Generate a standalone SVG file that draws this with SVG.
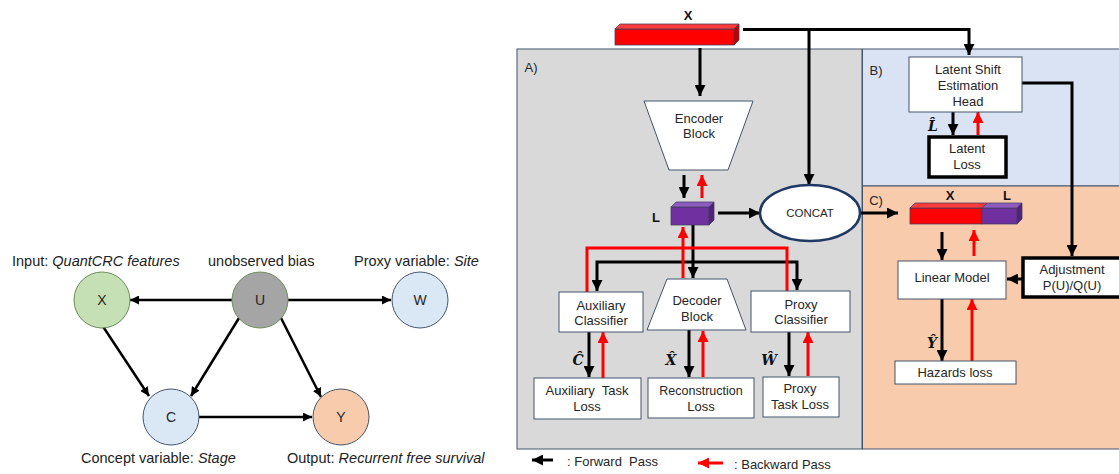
<svg xmlns="http://www.w3.org/2000/svg" width="1119" height="474" viewBox="0 0 1119 474">
<defs>
<style>
.t{font-family:"Liberation Sans",Arial,sans-serif;fill:#262626;text-anchor:middle}
.dl{font-family:"Liberation Sans",Arial,sans-serif;font-size:14.5px;fill:#222}
.lab{font-size:14px}
.bx{font-size:13px}
.bold{font-weight:bold;fill:#111}
.hat{font-family:"DejaVu Serif","Liberation Serif",serif;font-weight:bold;font-style:italic;font-size:14px;fill:#111;text-anchor:middle}
.box{fill:#fff;stroke:#44546a;stroke-width:1}
.tbox{fill:#fff;stroke:#000;stroke-width:3.5}
.k{fill:none;stroke:#000;stroke-width:3}
.r{fill:none;stroke:#f00;stroke-width:3}
.dag{fill:none;stroke:#000;stroke-width:2.5}
.bar{stroke:#3f3f5f;stroke-width:0.75}
</style>
<marker id="ak" markerUnits="userSpaceOnUse" markerWidth="11" markerHeight="11" viewBox="0 0 10 10" refX="10" refY="5" orient="auto"><path d="M0,0 L10,5 L0,10 z" fill="#000"/></marker>
<marker id="ar" markerUnits="userSpaceOnUse" markerWidth="11" markerHeight="11" viewBox="0 0 10 10" refX="10" refY="5" orient="auto"><path d="M0,0 L10,5 L0,10 z" fill="#f00"/></marker>
<marker id="ad" markerUnits="userSpaceOnUse" markerWidth="9" markerHeight="9" viewBox="0 0 10 10" refX="10" refY="5" orient="auto"><path d="M0,0 L10,5 L0,10 z" fill="#000"/></marker>
</defs>
<rect width="1119" height="474" fill="#fff"/>

<!-- ===== Left causal DAG ===== -->
<g id="dag-edges">
<path class="dag" d="M232,300 H130" marker-end="url(#ad)"/>
<path class="dag" d="M288,300 H391" marker-end="url(#ad)"/>
<path class="dag" d="M102,325 L149,396" marker-end="url(#ad)"/>
<path class="dag" d="M239,318 L191,396" marker-end="url(#ad)"/>
<path class="dag" d="M281,318 L321,397" marker-end="url(#ad)"/>
<path class="dag" d="M199,417 H312" marker-end="url(#ad)"/>
</g>
<g id="node-X"><circle cx="102" cy="300" r="28" fill="#c5e0b4" stroke="#6b8a5a"/><text class="t lab" x="102" y="305">X</text></g>
<g id="node-U"><circle cx="260" cy="300" r="28" fill="#a5a5a5" stroke="#6b8a5a"/><text class="t lab" x="260" y="305">U</text></g>
<g id="node-W"><circle cx="420" cy="300" r="28" fill="#dae8f5" stroke="#44546a"/><text class="t lab" x="420" y="305">W</text></g>
<g id="node-C"><circle cx="171" cy="417" r="28" fill="#dae8f5" stroke="#44546a"/><text class="t lab" x="171" y="422">C</text></g>
<g id="node-Y"><circle cx="341" cy="417" r="28" fill="#f8cbad" stroke="#44546a"/><text class="t lab" x="341" y="422">Y</text></g>
<g id="dag-labels">
<text class="dl" x="12" y="266">Input: <tspan font-style="italic">QuantCRC features</tspan></text>
<text class="dl" x="208" y="266">unobserved bias</text>
<text class="dl" x="354" y="266">Proxy variable: <tspan font-style="italic">Site</tspan></text>
<text class="dl" x="81" y="463">Concept variable: <tspan font-style="italic">Stage</tspan></text>
<text class="dl" x="287" y="463">Output: <tspan font-style="italic">Recurrent free survival</tspan></text>
</g>

<!-- ===== Panels ===== -->
<g id="panel-A"><rect x="517" y="49" width="345" height="400" fill="#d9d9d9" stroke="#44546a" stroke-width="1"/><text class="t bx" x="531" y="72">A)</text></g>
<g id="panel-B"><rect x="862.5" y="49" width="257" height="137" fill="#dae3f3" stroke="#44546a" stroke-width="1"/><text class="t bx" x="876" y="75">B)</text></g>
<g id="panel-C"><rect x="862.5" y="186" width="257" height="263" fill="#f8cbad" stroke="#44546a" stroke-width="1"/><text class="t bx" x="876" y="205">C)</text></g>

<!-- ===== Connectors ===== -->
<g id="connectors">
<path class="k" d="M743,29.5 H969 V55" marker-end="url(#ak)"/>
<path class="k" d="M809,29.5 V185" marker-end="url(#ak)"/>
<path class="k" d="M700,48 V96" marker-end="url(#ak)"/>
<path class="k" d="M684,175 V198" marker-end="url(#ak)"/>
<path class="r" d="M702,198 V175" marker-end="url(#ar)"/>
<path class="k" d="M718,213 H760" marker-end="url(#ak)"/>
<path class="k" d="M860,213 H898" marker-end="url(#ak)"/>
<path class="k" d="M693,225 V278" marker-end="url(#ak)"/>
<path class="k" d="M693,262 H597 V291" marker-end="url(#ak)"/>
<path class="k" d="M693,262 H797 V290" marker-end="url(#ak)"/>
<path class="r" d="M587,292 V248 H683"/>
<path class="r" d="M787,291 V248 H683"/>
<path class="r" d="M683,278 V227" marker-end="url(#ar)"/>
<path class="k" d="M589,332 V377" marker-end="url(#ak)"/>
<path class="r" d="M603,378 V332" marker-end="url(#ar)"/>
<path class="k" d="M689,330 V377" marker-end="url(#ak)"/>
<path class="r" d="M703,377 V331" marker-end="url(#ar)"/>
<path class="k" d="M789,332 V376" marker-end="url(#ak)"/>
<path class="r" d="M808,376 V332" marker-end="url(#ar)"/>
<path class="k" d="M1022,83 H1072 V256" marker-end="url(#ak)"/>
<path class="k" d="M953,112 V135" marker-end="url(#ak)"/>
<path class="r" d="M978,135 V112" marker-end="url(#ar)"/>
<path class="k" d="M942,232 V260" marker-end="url(#ak)"/>
<path class="r" d="M974,256 V230" marker-end="url(#ar)"/>
<path class="k" d="M1022,279 H1007" marker-end="url(#ak)"/>
<path class="k" d="M942,299 V361" marker-end="url(#ak)"/>
<path class="r" d="M972,361 V299" marker-end="url(#ar)"/>
</g>

<!-- ===== Nodes ===== -->
<g id="node-Xbar">
<rect class="bar" x="615" y="29" width="119" height="16" fill="#ff0000"/>
<polygon class="bar" points="615,29 620,24 739,24 734,29" fill="#ff3b3b"/>
<polygon class="bar" points="734,29 739,24 739,40 734,45" fill="#c00000"/>
<text class="t bold" x="688" y="20" font-size="13">X</text>
</g>
<g id="node-encoder">
<polygon points="644,101 753,101 728,170 669,170" fill="#fff" stroke="#44546a" stroke-width="1"/>
<text class="t" font-size="13" x="699" y="122.5">Encoder</text>
<text class="t" font-size="13" x="699" y="138">Block</text>
</g>
<g id="node-L">
<rect class="bar" x="671" y="207" width="38" height="18" fill="#7030a0"/>
<polygon class="bar" points="671,207 676,202 714,202 709,207" fill="#8e5cbf"/>
<polygon class="bar" points="709,207 714,202 714,220 709,225" fill="#53207a"/>
<text class="t bold" x="656" y="222" font-size="13">L</text>
</g>
<g id="node-concat">
<ellipse cx="810" cy="213" rx="50" ry="28" fill="#fff" stroke="#1f3864" stroke-width="2.5"/>
<text class="t" font-size="11.5" x="810" y="217">CONCAT</text>
</g>
<g id="node-aux-classifier">
<rect class="box" x="559" y="292" width="84" height="40"/>
<text class="t bx" x="601" y="309.5">Auxiliary</text>
<text class="t bx" x="601" y="324.5">Classifier</text>
</g>
<g id="node-decoder">
<polygon points="667,279 727,279 746,330 647,330" fill="#fff" stroke="#44546a" stroke-width="1"/>
<text class="t bx" x="697" y="304.5">Decoder</text>
<text class="t bx" x="697" y="320.5">Block</text>
</g>
<g id="node-proxy-classifier">
<rect class="box" x="751" y="291" width="99" height="41"/>
<text class="t bx" x="801" y="308.5">Proxy</text>
<text class="t bx" x="801" y="323.5">Classifier</text>
</g>
<g id="node-aux-loss">
<rect class="box" x="534" y="378" width="107" height="41"/>
<text class="t bx" x="587" y="394.5" xml:space="preserve">Auxiliary  Task</text>
<text class="t bx" x="587" y="410.5">Loss</text>
<text class="hat" x="578" y="365">Ĉ</text>
</g>
<g id="node-recon-loss">
<rect class="box" x="648" y="378" width="106" height="40"/>
<text class="t" font-size="12.5" x="701" y="394.5">Reconstruction</text>
<text class="t bx" x="701" y="410.5">Loss</text>
<text class="hat" x="671" y="365">X̂</text>
</g>
<g id="node-proxy-loss">
<rect class="box" x="763" y="377" width="76" height="40"/>
<text class="t bx" x="800" y="393">Proxy</text>
<text class="t bx" x="800" y="408.5">Task Loss</text>
<text class="hat" x="769" y="365">Ŵ</text>
</g>
<g id="node-latent-shift">
<rect class="box" x="909" y="57" width="113" height="55"/>
<text class="t bx" x="968" y="73.5">Latent Shift</text>
<text class="t bx" x="968" y="89.5">Estimation</text>
<text class="t bx" x="968" y="105.5">Head</text>
</g>
<g id="node-latent-loss">
<rect class="tbox" x="929" y="137" width="77" height="40"/>
<text class="t bx" x="967" y="153">Latent</text>
<text class="t bx" x="967" y="169">Loss</text>
<text class="hat" x="933" y="131">L̂</text>
</g>
<g id="node-XLbar">
<rect class="bar" x="910" y="208" width="72" height="16" fill="#ff0000"/>
<rect class="bar" x="982" y="208" width="35" height="16" fill="#7030a0"/>
<polygon class="bar" points="910,208 915,203 987,203 982,208" fill="#ff3b3b"/>
<polygon class="bar" points="982,208 987,203 1022,203 1017,208" fill="#8e5cbf"/>
<polygon class="bar" points="1017,208 1022,203 1022,219 1017,224" fill="#53207a"/>
<text class="t bold" x="950" y="200" font-size="13">X</text>
<text class="t bold" x="1007" y="200" font-size="13">L</text>
</g>
<g id="node-linear">
<rect class="box" x="898" y="261" width="108" height="38"/>
<text class="t bx" x="952" y="281.5">Linear Model</text>
</g>
<g id="node-adjustment">
<rect class="tbox" x="1023" y="258" width="100" height="39"/>
<text class="t bx" x="1072" y="273.5">Adjustment</text>
<text class="t bx" x="1072" y="290">P(U)/Q(U)</text>
</g>
<g id="node-hazards">
<rect class="box" x="895" y="361" width="121" height="23"/>
<text class="t bx" x="955" y="377">Hazards loss</text>
<text class="hat" x="932" y="348">Ŷ</text>
</g>

<!-- ===== Legend ===== -->
<g id="legend">
<path class="k" d="M553,460 H532" marker-end="url(#ak)"/>
<text class="t" font-size="13" x="567" y="466" style="text-anchor:start" xml:space="preserve">: Forward  Pass</text>
<path class="r" d="M723,463 H698" marker-end="url(#ar)"/>
<text class="t" font-size="13" x="734" y="469" style="text-anchor:start">: Backward Pass</text>
</g>
</svg>
